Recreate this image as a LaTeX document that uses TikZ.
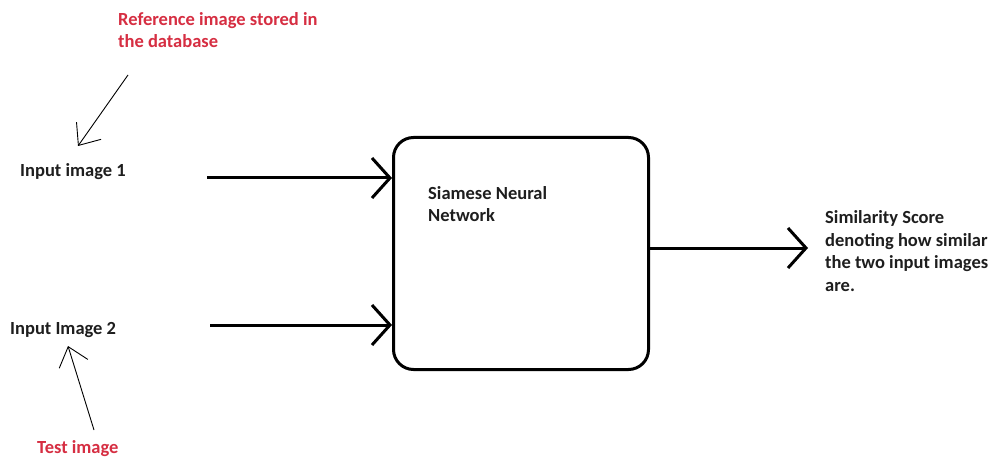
\documentclass[tikz,border=0pt]{standalone}
\usepackage{fontspec}
\setmainfont{Carlito}
\usetikzlibrary{arrows.meta}
\definecolor{refred}{RGB}{214,46,66}
\definecolor{txt}{RGB}{30,30,30}
\tikzset{
  lbl/.style={font=\fontsize{18.5}{22.5}\selectfont\bfseries, text=txt, inner sep=0pt, align=left},
  redlbl/.style={lbl, text=refred},
  thick arrow/.style={line width=3pt, -{Straight Barb[length=18pt,width=40pt,line width=3pt]}},
  thin arrow/.style={line width=0.9pt, -{Straight Barb[length=18pt,width=30pt,line width=0.9pt]}},
}
\begin{document}
\begin{tikzpicture}[x=1pt,y=-1pt]
\useasboundingbox[fill=white] (0,0) rectangle (998,457);
\node[draw, line width=3pt, rounded corners=20pt, minimum width=255pt, minimum height=232pt, anchor=north west] (box) at (392,136) {};
\node[lbl, anchor=base west] (snn) at (428,222) {Siamese Neural\\Network};
\node[lbl, anchor=base west] (in1) at (20,177) {Input image 1};
\node[lbl, anchor=base west] (in2) at (10,334) {Input Image 2};
\node[redlbl, anchor=base west] (ref) at (118,48) {Reference image stored in\\the database};
\node[redlbl, anchor=base west] (test) at (37,453) {Test image};
\node[lbl, anchor=base west] (out) at (825,291) {Similarity Score\\denoting how similar\\the two input images\\are.};
\coordinate (s1) at (207,178);
\coordinate (s2) at (210,325);
\coordinate (refstart) at (128,75);
\coordinate (reftip) at (78,146);
\coordinate (teststart) at (94,430);
\coordinate (testtip) at (68,346);
\coordinate (outtip) at (808,248);
\draw[thick arrow] (s1) -- (s1 -| box.west);
\draw[thick arrow] (s2) -- (s2 -| box.west);
\draw[thick arrow] (box.east |- outtip) -- (outtip);
\draw[thin arrow] (refstart) -- (reftip);
\draw[thin arrow] (teststart) -- (testtip);
\end{tikzpicture}
\end{document}
